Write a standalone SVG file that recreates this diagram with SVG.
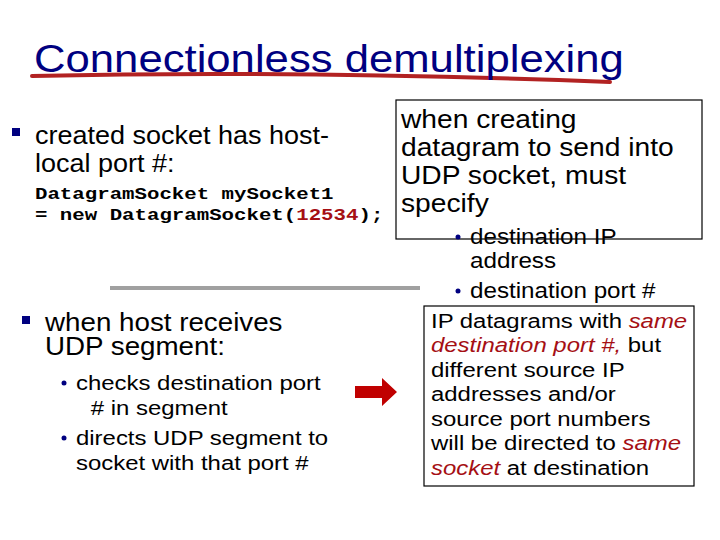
<svg xmlns="http://www.w3.org/2000/svg" width="720" height="540" viewBox="0 0 720 540">
<style>
.t{font-family:"Liberation Sans",Arial,sans-serif;fill:#000}
.m{font-family:"Liberation Mono","Courier New",monospace;font-weight:bold;font-size:17px;fill:#000}
.r{fill:#a50f14;font-style:italic}
.box{fill:#fff;stroke:#000;stroke-width:1.2}
.nb{fill:#000080}
</style>
<rect width="720" height="540" fill="#fff"/>
<g id="title">
<path d="M32,76 Q300,70 610,82" stroke="#b22222" stroke-width="4" fill="none" stroke-linecap="round"/>
<text x="34" y="72" class="t" font-size="39" style="fill:#000080" transform="translate(34,0) scale(1.12,1) translate(-34,0)">Connectionless demultiplexing</text>
</g>
<g id="left-top">
<rect x="12" y="128" width="8" height="8" class="nb"/>
<text class="t" font-size="25" transform="translate(35,0) scale(1.08,1) translate(-35,0)"><tspan x="35" y="144">created socket has host-</tspan><tspan x="35" y="172">local port #:</tspan></text>
<text class="m" font-size="18" transform="translate(35,0) scale(1.22,1) translate(-35,0)"><tspan x="35" y="199">DatagramSocket mySocket1</tspan><tspan x="35" y="220">= new DatagramSocket(<tspan fill="#a50f14">12534</tspan>);</tspan></text>
</g>
<g id="connectors">
<line x1="110" y1="288" x2="420" y2="288" stroke="#a0a0a0" stroke-width="4"/>
<polygon points="355,386 382,386 382,378 397,392 382,406 382,398 355,398" fill="#c00000"/>
</g>
<g id="left-bottom">
<rect x="22" y="316" width="8" height="8" class="nb"/>
<text class="t" font-size="25" transform="translate(45,0) scale(1.11,1) translate(-45,0)"><tspan x="45" y="331">when host receives</tspan><tspan x="45" y="355">UDP segment:</tspan></text>
<circle cx="64" cy="383" r="2.5" class="nb"/>
<circle cx="64" cy="438" r="2.5" class="nb"/>
<text class="t" font-size="21" transform="translate(76,0) scale(1.14,1) translate(-76,0)"><tspan x="76" y="390">checks destination port</tspan><tspan x="89" y="415"># in segment</tspan><tspan x="76" y="445">directs UDP segment to</tspan><tspan x="76" y="470">socket with that port #</tspan></text>
</g>
<g id="box1">
<rect x="396" y="100" width="306" height="139" class="box"/>
<text class="t" font-size="26" transform="translate(401,0) scale(1.085,1) translate(-401,0)"><tspan x="401" y="128">when creating</tspan><tspan x="401" y="156">datagram to send into</tspan><tspan x="401" y="184">UDP socket, must</tspan><tspan x="401" y="212">specify</tspan></text>
<circle cx="458" cy="237" r="2.5" class="nb"/>
<circle cx="458" cy="291" r="2.5" class="nb"/>
<text class="t" font-size="22" transform="translate(470,0) scale(1.1,1) translate(-470,0)"><tspan x="470" y="244">destination IP</tspan><tspan x="470" y="268">address</tspan><tspan x="470" y="298">destination port #</tspan></text>
</g>
<g id="box2">
<rect x="424" y="306" width="270" height="180" class="box"/>
<text class="t" font-size="21" transform="translate(431,0) scale(1.14,1) translate(-431,0)"><tspan x="431" y="328">IP datagrams with <tspan class="r">same</tspan></tspan><tspan x="431" y="352"><tspan class="r">destination port #,</tspan> but</tspan><tspan x="431" y="377">different source IP</tspan><tspan x="431" y="401">addresses and/or</tspan><tspan x="431" y="426">source port numbers</tspan><tspan x="431" y="450">will be directed to <tspan class="r">same</tspan></tspan><tspan x="431" y="475"><tspan class="r">socket</tspan> at destination</tspan></text>
</g>
</svg>
